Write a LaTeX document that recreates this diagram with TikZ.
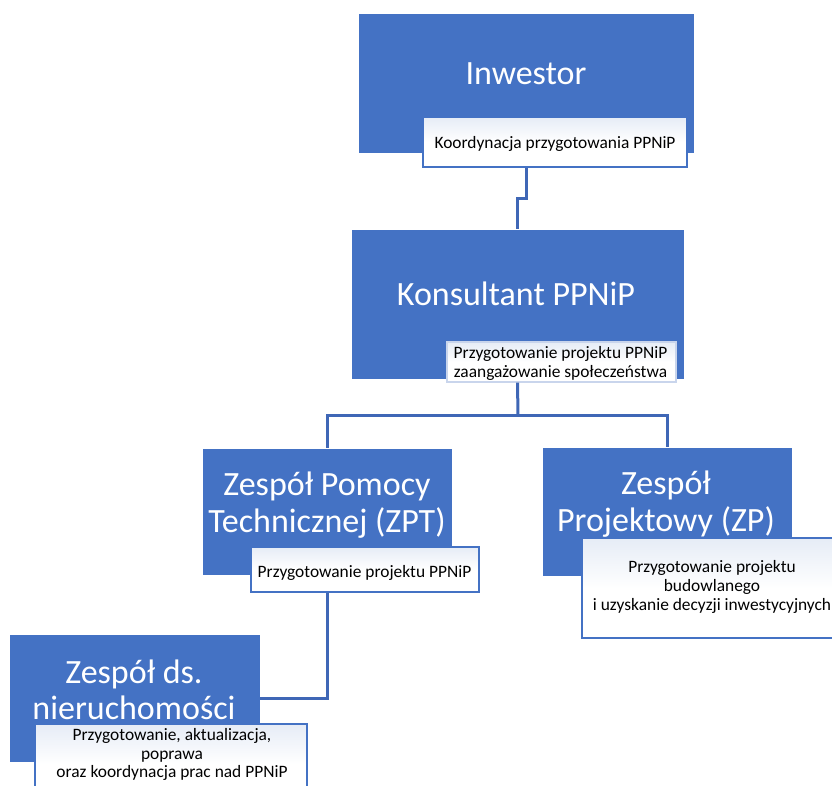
\documentclass[tikz,border=0pt]{standalone}
\usepackage{fontspec}
\setmainfont{Carlito}
\definecolor{obl}{HTML}{4472C4}
\definecolor{lnk}{HTML}{3F67B6}
\definecolor{subtop}{HTML}{E6ECF6}
\definecolor{kbord}{HTML}{C9D5EC}
\tikzset{
  mainbox/.style={rectangle, fill=obl, draw=white, line width=0.8pt, inner sep=0pt},
  subbox/.style={rectangle, draw=obl, line width=1.8pt, inner sep=0pt, top color=subtop, bottom color=white, middle color=white},
  ksubbox/.style={rectangle, draw=kbord, line width=1.2pt, inner sep=0pt, top color=subtop, bottom color=white, middle color=white},
  maintext/.style={text=white, font=\fontsize{34}{36.5}\selectfont, align=center, inner sep=0pt},
  subtext/.style={text=black, font=\fontsize{17.4}{18.6}\selectfont, align=center, inner sep=0pt},
  conn/.style={draw=lnk, line width=3pt},
}
\begin{document}
\begin{tikzpicture}[x=1pt,y=-1pt]
\useasboundingbox (0,0) rectangle (832,785);
% main boxes
\node[mainbox, minimum width=336pt, minimum height=140pt] (inw) at (526,83) {};
\node[mainbox, minimum width=333pt, minimum height=150pt] (kons) at (517.5,304) {};
\node[mainbox, minimum width=250pt, minimum height=127pt] (zpt) at (327,511.5) {};
\node[mainbox, minimum width=250pt, minimum height=129pt] (zp) at (667,511.5) {};
\node[mainbox, minimum width=251pt, minimum height=128pt] (zdn) at (134.5,698) {};
% main texts
\node[maintext] (inwT) at (526,74) {Inwestor};
\node[maintext] (konsT) at (516,294) {Konsultant PPNiP};
\node[maintext] (zptT) at (327,505) {Zespół Pomocy\\Technicznej (ZPT)};
\node[maintext] (zpT) at (666,504) {Zespół\\Projektowy (ZP)};
\node[maintext] (zdnT) at (134,690) {Zespół ds.\\nieruchomości};
% sub boxes
\node[subbox, minimum width=264pt, minimum height=50pt] (isub) at (555,142) {};
\node[ksubbox, minimum width=229pt, minimum height=40pt] (ksub) at (561.5,362) {};
\node[subbox, minimum width=228pt, minimum height=45pt] (zsub) at (365,569.5) {};
\node[subbox, minimum width=262pt, minimum height=100pt] (zpsub) at (713,588) {};
\node[subbox, minimum width=272pt, minimum height=80pt] (zdnsub) at (171,764) {};
% sub texts
\node[subtext] (isubT) at (555,143.8) {Koordynacja przygotowania PPNiP};
\node[subtext] (ksubT) at (560.5,363.7) {Przygotowanie projektu PPNiP\\zaangażowanie społeczeństwa};
\node[subtext] (zsubT) at (364.5,572.7) {Przygotowanie projektu PPNiP};
\node[subtext] (zpsubT) at (712,587) {Przygotowanie projektu\\budowlanego\\i uzyskanie decyzji inwestycyjnych};
\node[subtext] (zdnsubT) at (172,754.7) {Przygotowanie, aktualizacja,\\poprawa\\oraz koordynacja prac nad PPNiP};
% connectors
\coordinate (j1) at (526,198);
\draw[conn] (inw.center |- isub.south) -- (j1) -- (kons.center |- j1) -- (kons.north);
\coordinate (bus) at (518,415);
\draw[conn] (kons.center |- ksub.south) -- (bus);
\draw[conn] (zpt.north) -- (zpt.center |- bus) -- (zp.center |- bus) -- (zp.north);
\draw[conn] (zpt.center |- zsub.south) -- (zpt.center |- zdn.east) -- (zdn.east);
\end{tikzpicture}
\end{document}
